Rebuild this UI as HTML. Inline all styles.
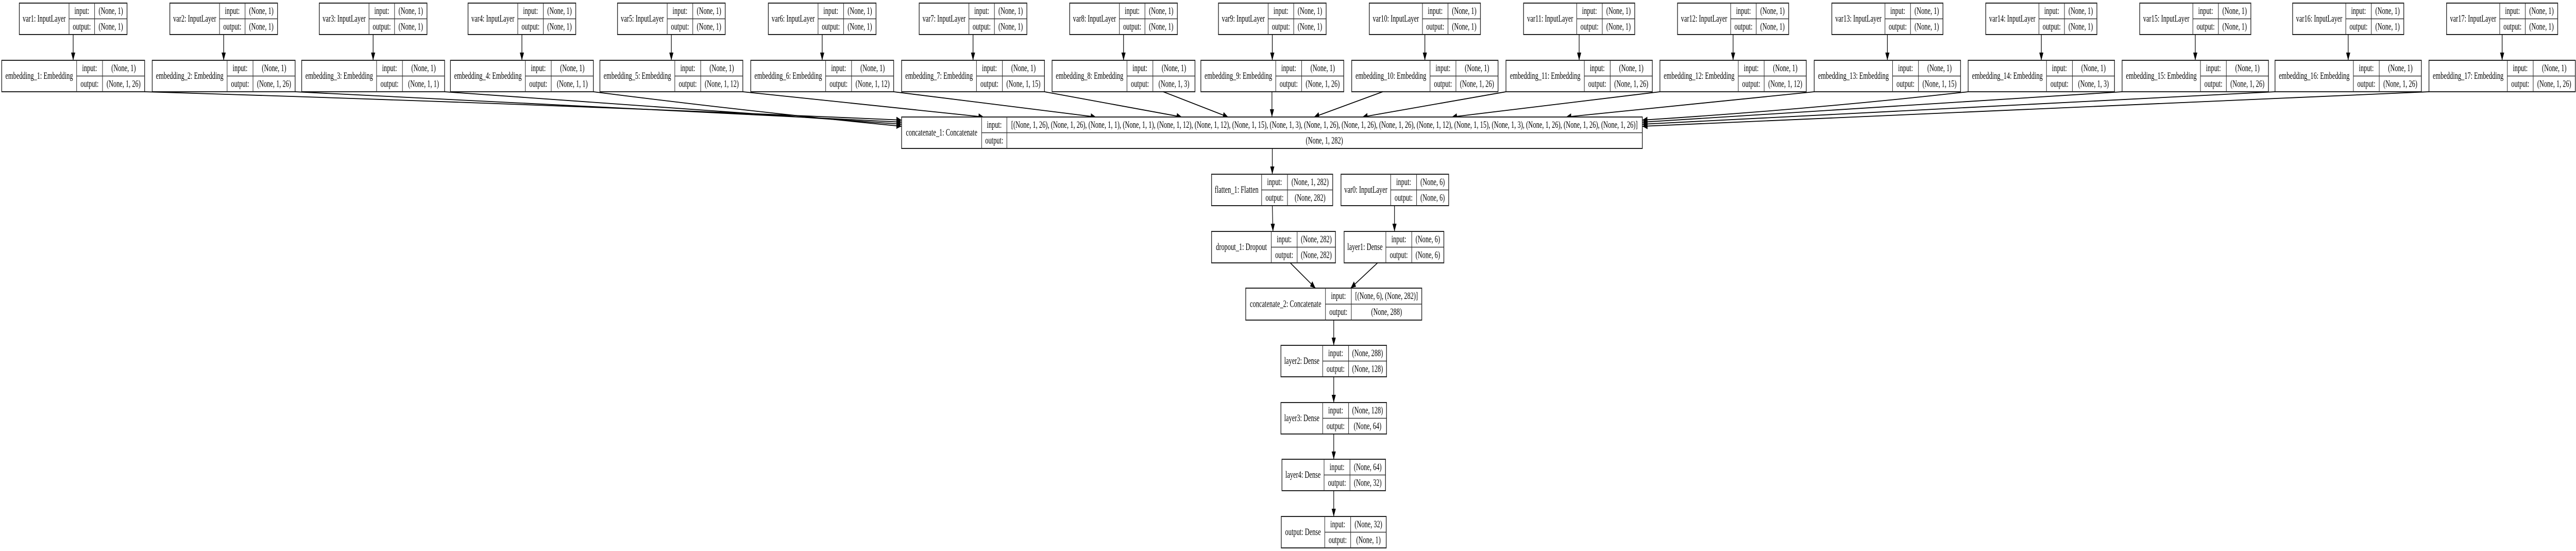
<!DOCTYPE html>
<html><head><meta charset="utf-8">
<style>
html,body{margin:0;padding:0;background:#fff;overflow:hidden;width:100%;height:100%;}
svg{display:block;width:100vw;height:100vh;}
text{font-family:"Liberation Serif","Times New Roman",serif;font-size:18.5px;fill:#000;text-anchor:middle;dominant-baseline:central;}
.b{fill:#fff;stroke:#222;stroke-width:2;}
.l{stroke:#333;stroke-width:1.6;fill:none;}
.e{stroke:#000;stroke-width:1.8;fill:none;marker-end:url(#ah);}
</style></head><body>
<svg viewBox="0 0 7463 1069" preserveAspectRatio="none" xmlns="http://www.w3.org/2000/svg">
<defs>
<marker id="ah" markerUnits="userSpaceOnUse" markerWidth="16" markerHeight="12" refX="15" refY="6" orient="auto">
<path d="M0,0 L15,6 L0,12 z" fill="#000"/>
</marker>
<g id="vs"><rect class="b" x="0" y="0" width="312" height="61"/><line class="l" x1="144" y1="0" x2="144" y2="61"/><line class="l" x1="218" y1="0" x2="218" y2="61"/><line class="l" x1="144" y1="30.5" x2="312" y2="30.5"/><text x="181" y="15.5">input:</text><text x="181" y="46">output:</text><text x="265" y="15.5">(None, 1)</text><text x="265" y="46">(None, 1)</text></g>
<g id="vl"><rect class="b" x="0" y="0" width="322" height="61"/><line class="l" x1="154" y1="0" x2="154" y2="61"/><line class="l" x1="228" y1="0" x2="228" y2="61"/><line class="l" x1="154" y1="30.5" x2="322" y2="30.5"/><text x="191" y="15.5">input:</text><text x="191" y="46">output:</text><text x="275" y="15.5">(None, 1)</text><text x="275" y="46">(None, 1)</text></g>
<g id="es"><rect class="b" x="0" y="0" width="414" height="61"/><line class="l" x1="217" y1="0" x2="217" y2="61"/><line class="l" x1="292" y1="0" x2="292" y2="61"/><line class="l" x1="217" y1="30.5" x2="414" y2="30.5"/><text x="254.5" y="15.5">input:</text><text x="254.5" y="46">output:</text><text x="353" y="15.5">(None, 1)</text></g>
<g id="el"><rect class="b" x="0" y="0" width="424" height="61"/><line class="l" x1="227" y1="0" x2="227" y2="61"/><line class="l" x1="302" y1="0" x2="302" y2="61"/><line class="l" x1="227" y1="30.5" x2="424" y2="30.5"/><text x="264.5" y="15.5">input:</text><text x="264.5" y="46">output:</text><text x="363" y="15.5">(None, 1)</text></g>
</defs>

<g transform="translate(56,6)"><use href="#vs"/><text x="72" y="30.5">var1: InputLayer</text></g>
<g transform="translate(492,6)"><use href="#vs"/><text x="72" y="30.5">var2: InputLayer</text></g>
<g transform="translate(925,6)"><use href="#vs"/><text x="72" y="30.5">var3: InputLayer</text></g>
<g transform="translate(1356,6)"><use href="#vs"/><text x="72" y="30.5">var4: InputLayer</text></g>
<g transform="translate(1789,6)"><use href="#vs"/><text x="72" y="30.5">var5: InputLayer</text></g>
<g transform="translate(2226,6)"><use href="#vs"/><text x="72" y="30.5">var6: InputLayer</text></g>
<g transform="translate(2663,6)"><use href="#vs"/><text x="72" y="30.5">var7: InputLayer</text></g>
<g transform="translate(3099,6)"><use href="#vs"/><text x="72" y="30.5">var8: InputLayer</text></g>
<g transform="translate(3530,6)"><use href="#vs"/><text x="72" y="30.5">var9: InputLayer</text></g>
<g transform="translate(3967,6)"><use href="#vl"/><text x="77" y="30.5">var10: InputLayer</text></g>
<g transform="translate(4414,6)"><use href="#vl"/><text x="77" y="30.5">var11: InputLayer</text></g>
<g transform="translate(4860,6)"><use href="#vl"/><text x="77" y="30.5">var12: InputLayer</text></g>
<g transform="translate(5307,6)"><use href="#vl"/><text x="77" y="30.5">var13: InputLayer</text></g>
<g transform="translate(5753,6)"><use href="#vl"/><text x="77" y="30.5">var14: InputLayer</text></g>
<g transform="translate(6199,6)"><use href="#vl"/><text x="77" y="30.5">var15: InputLayer</text></g>
<g transform="translate(6642,6)"><use href="#vl"/><text x="77" y="30.5">var16: InputLayer</text></g>
<g transform="translate(7088,6)"><use href="#vl"/><text x="77" y="30.5">var17: InputLayer</text></g>

<path class="e" d="M212,67 L212,117"/><path class="e" d="M648,67 L648,117"/><path class="e" d="M1081,67 L1081,117"/>
<path class="e" d="M1512,67 L1512,117"/><path class="e" d="M1945,67 L1945,117"/><path class="e" d="M2382,67 L2382,117"/>
<path class="e" d="M2819,67 L2819,117"/><path class="e" d="M3255,67 L3255,117"/><path class="e" d="M3686,67 L3686,117"/>
<path class="e" d="M4128,67 L4128,117"/><path class="e" d="M4575,67 L4575,117"/><path class="e" d="M5021,67 L5021,117"/>
<path class="e" d="M5468,67 L5468,117"/><path class="e" d="M5914,67 L5914,117"/><path class="e" d="M6360,67 L6360,117"/>
<path class="e" d="M6803,67 L6803,117"/><path class="e" d="M7249,67 L7249,117"/>

<g transform="translate(5,117)"><use href="#es"/><text x="108.5" y="30.5">embedding_1: Embedding</text><text x="353" y="46">(None, 1, 26)</text></g>
<g transform="translate(441,117)"><use href="#es"/><text x="108.5" y="30.5">embedding_2: Embedding</text><text x="353" y="46">(None, 1, 26)</text></g>
<g transform="translate(874,117)"><use href="#es"/><text x="108.5" y="30.5">embedding_3: Embedding</text><text x="353" y="46">(None, 1, 1)</text></g>
<g transform="translate(1305,117)"><use href="#es"/><text x="108.5" y="30.5">embedding_4: Embedding</text><text x="353" y="46">(None, 1, 1)</text></g>
<g transform="translate(1738,117)"><use href="#es"/><text x="108.5" y="30.5">embedding_5: Embedding</text><text x="353" y="46">(None, 1, 12)</text></g>
<g transform="translate(2175,117)"><use href="#es"/><text x="108.5" y="30.5">embedding_6: Embedding</text><text x="353" y="46">(None, 1, 12)</text></g>
<g transform="translate(2612,117)"><use href="#es"/><text x="108.5" y="30.5">embedding_7: Embedding</text><text x="353" y="46">(None, 1, 15)</text></g>
<g transform="translate(3048,117)"><use href="#es"/><text x="108.5" y="30.5">embedding_8: Embedding</text><text x="353" y="46">(None, 1, 3)</text></g>
<g transform="translate(3479,117)"><use href="#es"/><text x="108.5" y="30.5">embedding_9: Embedding</text><text x="353" y="46">(None, 1, 26)</text></g>
<g transform="translate(3916,117)"><use href="#el"/><text x="113.5" y="30.5">embedding_10: Embedding</text><text x="363" y="46">(None, 1, 26)</text></g>
<g transform="translate(4363,117)"><use href="#el"/><text x="113.5" y="30.5">embedding_11: Embedding</text><text x="363" y="46">(None, 1, 26)</text></g>
<g transform="translate(4809,117)"><use href="#el"/><text x="113.5" y="30.5">embedding_12: Embedding</text><text x="363" y="46">(None, 1, 12)</text></g>
<g transform="translate(5256,117)"><use href="#el"/><text x="113.5" y="30.5">embedding_13: Embedding</text><text x="363" y="46">(None, 1, 15)</text></g>
<g transform="translate(5702,117)"><use href="#el"/><text x="113.5" y="30.5">embedding_14: Embedding</text><text x="363" y="46">(None, 1, 3)</text></g>
<g transform="translate(6148,117)"><use href="#el"/><text x="113.5" y="30.5">embedding_15: Embedding</text><text x="363" y="46">(None, 1, 26)</text></g>
<g transform="translate(6591,117)"><use href="#el"/><text x="113.5" y="30.5">embedding_16: Embedding</text><text x="363" y="46">(None, 1, 26)</text></g>
<g transform="translate(7037,117)"><use href="#el"/><text x="113.5" y="30.5">embedding_17: Embedding</text><text x="363" y="46">(None, 1, 26)</text></g>

<path class="e" d="M419,178 Q1500,200 2612,233"/>
<path class="e" d="M855,178 Q1750,205 2612,237"/>
<path class="e" d="M1288,178 Q1950,210 2612,241"/>
<path class="e" d="M1719,178 Q2150,215 2612,245"/>
<path class="e" d="M2152,178 L2850,227"/>
<path class="e" d="M2589,178 L3175,227"/>
<path class="e" d="M3026,178 L3424,227"/>
<path class="e" d="M3370,178 L3558,227"/>
<path class="e" d="M3685,178 L3685,227"/>
<path class="e" d="M4006,178 L3807,227"/>
<path class="e" d="M4363,178 L3947,227"/>
<path class="e" d="M4809,178 L4206,227"/>
<path class="e" d="M5256,178 L4537,227"/>
<path class="e" d="M5702,178 Q5250,212 4758,233"/>
<path class="e" d="M6148,178 Q5450,210 4758,237"/>
<path class="e" d="M6591,178 Q5650,210 4758,241"/>
<path class="e" d="M7037,178 Q5900,212 4758,245"/>

<g transform="translate(2612,227)">
<rect class="b" x="0" y="0" width="2146" height="61"/>
<line class="l" x1="232" y1="0" x2="232" y2="61"/><line class="l" x1="305" y1="0" x2="305" y2="61"/><line class="l" x1="232" y1="30.5" x2="2146" y2="30.5"/>
<text x="116" y="30.5">concatenate_1: Concatenate</text>
<text x="268.5" y="15.5">input:</text><text x="268.5" y="46">output:</text>
<text x="1225" y="15.5" textLength="1815" lengthAdjust="spacingAndGlyphs">[(None, 1, 26), (None, 1, 26), (None, 1, 1), (None, 1, 1), (None, 1, 12), (None, 1, 12), (None, 1, 15), (None, 1, 3), (None, 1, 26), (None, 1, 26), (None, 1, 26), (None, 1, 12), (None, 1, 15), (None, 1, 3), (None, 1, 26), (None, 1, 26), (None, 1, 26)]</text>
<text x="1225" y="46">(None, 1, 282)</text>
</g>

<g transform="translate(3510,338)">
<rect class="b" x="0" y="0" width="351" height="61"/>
<line class="l" x1="145" y1="0" x2="145" y2="61"/><line class="l" x1="220" y1="0" x2="220" y2="61"/><line class="l" x1="145" y1="30.5" x2="351" y2="30.5"/>
<text x="72.5" y="30.5">flatten_1: Flatten</text><text x="182.5" y="15.5">input:</text><text x="182.5" y="46">output:</text>
<text x="285.5" y="15.5">(None, 1, 282)</text><text x="285.5" y="46">(None, 282)</text>
</g>
<g transform="translate(3885,338)">
<rect class="b" x="0" y="0" width="312" height="61"/>
<line class="l" x1="144" y1="0" x2="144" y2="61"/><line class="l" x1="219" y1="0" x2="219" y2="61"/><line class="l" x1="144" y1="30.5" x2="312" y2="30.5"/>
<text x="72" y="30.5">var0: InputLayer</text><text x="181.5" y="15.5">input:</text><text x="181.5" y="46">output:</text>
<text x="265.5" y="15.5">(None, 6)</text><text x="265.5" y="46">(None, 6)</text>
</g>
<g transform="translate(3510,449)">
<rect class="b" x="0" y="0" width="359" height="61"/>
<line class="l" x1="173" y1="0" x2="173" y2="61"/><line class="l" x1="248" y1="0" x2="248" y2="61"/><line class="l" x1="173" y1="30.5" x2="359" y2="30.5"/>
<text x="86.5" y="30.5">dropout_1: Dropout</text><text x="210.5" y="15.5">input:</text><text x="210.5" y="46">output:</text>
<text x="303.5" y="15.5">(None, 282)</text><text x="303.5" y="46">(None, 282)</text>
</g>
<g transform="translate(3894,449)">
<rect class="b" x="0" y="0" width="289" height="61"/>
<line class="l" x1="121" y1="0" x2="121" y2="61"/><line class="l" x1="196" y1="0" x2="196" y2="61"/><line class="l" x1="121" y1="30.5" x2="289" y2="30.5"/>
<text x="60.5" y="30.5">layer1: Dense</text><text x="158.5" y="15.5">input:</text><text x="158.5" y="46">output:</text>
<text x="242.5" y="15.5">(None, 6)</text><text x="242.5" y="46">(None, 6)</text>
</g>
<g transform="translate(3609,559)">
<rect class="b" x="0" y="0" width="510" height="62"/>
<line class="l" x1="231" y1="0" x2="231" y2="62"/><line class="l" x1="306" y1="0" x2="306" y2="62"/><line class="l" x1="231" y1="31" x2="510" y2="31"/>
<text x="115.5" y="31">concatenate_2: Concatenate</text><text x="268.5" y="15.5">input:</text><text x="268.5" y="46.5">output:</text>
<text x="408" y="15.5">[(None, 6), (None, 282)]</text><text x="408" y="46.5">(None, 288)</text>
</g>
<g transform="translate(3711,670)">
<rect class="b" x="0" y="0" width="306" height="61"/>
<line class="l" x1="121" y1="0" x2="121" y2="61"/><line class="l" x1="196" y1="0" x2="196" y2="61"/><line class="l" x1="121" y1="30.5" x2="306" y2="30.5"/>
<text x="60.5" y="30.5">layer2: Dense</text><text x="158.5" y="15.5">input:</text><text x="158.5" y="46">output:</text>
<text x="251" y="15.5">(None, 288)</text><text x="251" y="46">(None, 128)</text>
</g>
<g transform="translate(3711,781)">
<rect class="b" x="0" y="0" width="306" height="61"/>
<line class="l" x1="121" y1="0" x2="121" y2="61"/><line class="l" x1="196" y1="0" x2="196" y2="61"/><line class="l" x1="121" y1="30.5" x2="306" y2="30.5"/>
<text x="60.5" y="30.5">layer3: Dense</text><text x="158.5" y="15.5">input:</text><text x="158.5" y="46">output:</text>
<text x="251" y="15.5">(None, 128)</text><text x="251" y="46">(None, 64)</text>
</g>
<g transform="translate(3714,891)">
<rect class="b" x="0" y="0" width="300" height="61"/>
<line class="l" x1="122" y1="0" x2="122" y2="61"/><line class="l" x1="197" y1="0" x2="197" y2="61"/><line class="l" x1="122" y1="30.5" x2="300" y2="30.5"/>
<text x="61" y="30.5">layer4: Dense</text><text x="159.5" y="15.5">input:</text><text x="159.5" y="46">output:</text>
<text x="248.5" y="15.5">(None, 64)</text><text x="248.5" y="46">(None, 32)</text>
</g>
<g transform="translate(3712,1002)">
<rect class="b" x="0" y="0" width="304" height="61"/>
<line class="l" x1="126" y1="0" x2="126" y2="61"/><line class="l" x1="201" y1="0" x2="201" y2="61"/><line class="l" x1="126" y1="30.5" x2="304" y2="30.5"/>
<text x="63" y="30.5">output: Dense</text><text x="163.5" y="15.5">input:</text><text x="163.5" y="46">output:</text>
<text x="252.5" y="15.5">(None, 32)</text><text x="252.5" y="46">(None, 1)</text>
</g>

<path class="e" d="M3686,288 L3686,338"/>
<path class="e" d="M3686,399 L3688,449"/>
<path class="e" d="M4040,399 L4040,449"/>
<path class="e" d="M3738,510 L3811,559"/>
<path class="e" d="M3991,510 L3913,559"/>
<path class="e" d="M3864,621 L3864,670"/>
<path class="e" d="M3864,731 L3864,781"/>
<path class="e" d="M3864,842 L3864,891"/>
<path class="e" d="M3864,952 L3864,1002"/>
</svg>
</body></html>
